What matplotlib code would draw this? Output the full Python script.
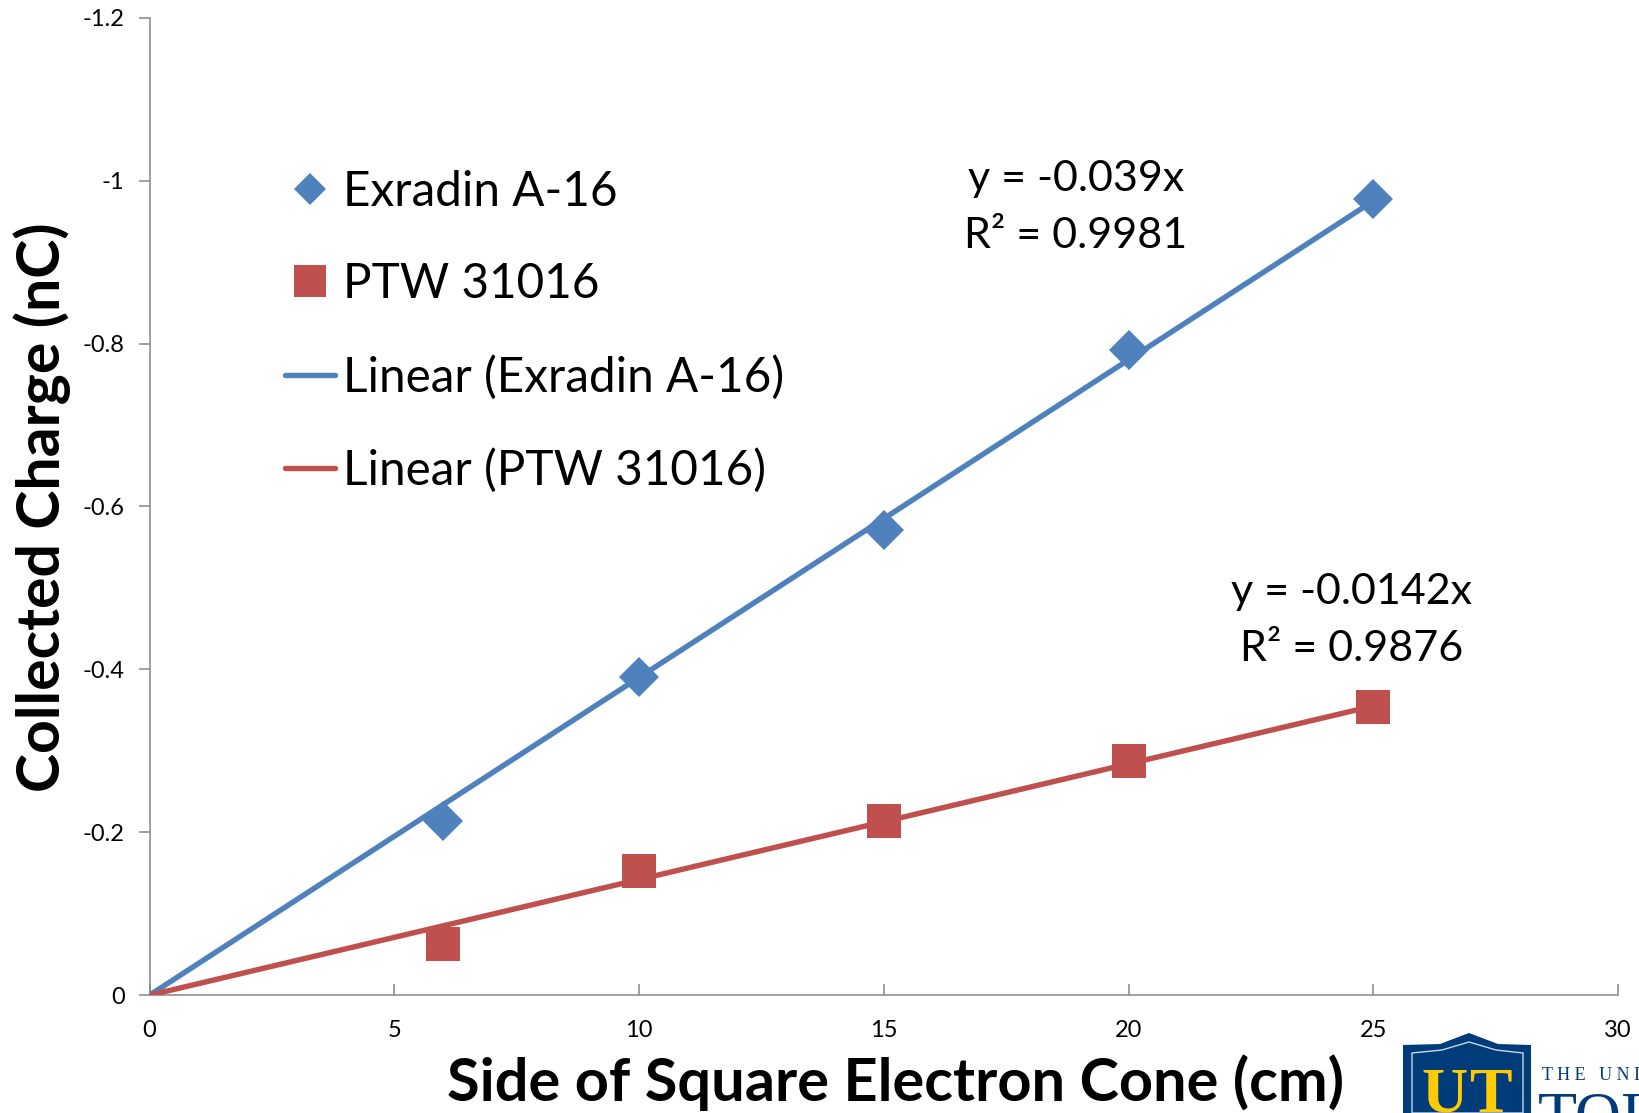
import numpy as np
import matplotlib
matplotlib.use("Agg")
import matplotlib.pyplot as plt
from matplotlib.patches import Polygon

# values
cone_side = [6, 10, 15, 20, 25]
exradin = [-0.214, -0.391, -0.571, -0.792, -0.978]
ptw = [-0.063, -0.153, -0.214, -0.2875, -0.354]
fit_x = [0, 25]
exradin_slope = -0.039
ptw_slope = -0.0142
x_ticks = [0, 5, 10, 15, 20, 25, 30]
y_ticks = [0, -0.2, -0.4, -0.6, -0.8, -1, -1.2]
y_tick_labels = ["0", "-0.2", "-0.4", "-0.6", "-0.8", "-1", "-1.2"]

BLUE = "#4F81BD"
RED = "#C0504D"
GREY = "#868686"
NAVY = "#003B7A"
GOLD = "#FFCB05"
W, H = 1639, 1113
AX_L, AX_R, AX_T, AX_B = 149.5, 1618, 17.7, 995.2

plt.rcParams["font.family"] = ["Lato", "DejaVu Sans"]

fig = plt.figure(figsize=(W / 100, H / 100), dpi=100)
ax = fig.add_axes([AX_L / W, 1 - AX_B / H, (AX_R - AX_L) / W, (AX_B - AX_T) / H])

fx = np.array(fit_x)
ax.plot(cone_side, exradin, "D", color=BLUE, ms=20.5, mew=0, label="Exradin A-16", clip_on=False, zorder=3)
ax.plot(cone_side, ptw, "s", color=RED, ms=24, mew=0, label="PTW 31016", clip_on=False, zorder=3)
ax.plot(fx, exradin_slope * fx, color=BLUE, lw=3.9, label="Linear (Exradin A-16)", zorder=4, solid_capstyle="round")
ax.plot(fx, ptw_slope * fx, color=RED, lw=3.9, label="Linear (PTW 31016)", zorder=4, solid_capstyle="round")

ax.set_xlim(0, 30)
ax.set_ylim(0, -1.2)
ax.set_xticks(x_ticks)
ax.set_yticks(y_ticks)
ax.set_yticklabels(y_tick_labels)
ax.spines["top"].set_visible(False)
ax.spines["right"].set_visible(False)
ax.spines["left"].set_color(GREY)
ax.spines["bottom"].set_color(GREY)
ax.spines["left"].set_linewidth(1.1)
ax.spines["bottom"].set_linewidth(1.1)
ax.tick_params(axis="x", direction="in", length=8, width=1.1, color=GREY, labelsize=17, pad=18)
ax.tick_params(axis="y", direction="out", length=8, width=1.1, color=GREY, labelsize=17, pad=10)

ax.set_xlabel("Side of Square Electron Cone (cm)", fontsize=42.8, fontweight="bold")
ax.xaxis.set_label_coords((896 - AX_L) / (AX_R - AX_L), -(1054 - AX_B) / (AX_B - AX_T), transform=ax.transAxes)
ax.xaxis.label.set_verticalalignment("top")
ax.set_ylabel("Collected Charge (nC)", fontsize=42.5, fontweight="bold")
ax.yaxis.set_label_coords(-(149.5 - 42) / (AX_R - AX_L), (AX_B - 507) / (AX_B - AX_T), transform=ax.transAxes)
ax.yaxis.label.set_verticalalignment("center")

leg = ax.legend(
    loc="upper left",
    bbox_to_anchor=(285 / W, 1 - 169.5 / H),
    bbox_transform=fig.transFigure,
    frameon=False,
    fontsize=34.3,
    handlelength=1.05,
    handletextpad=0.17,
    labelspacing=1.02,
    borderpad=0,
    borderaxespad=0,
)
leg.legend_handles[0].set_markersize(16)
leg.legend_handles[1].set_markersize(23.5)

ax.text(18.92, -0.967, "y = -0.039x\nR² = 0.9981", fontsize=31, ha="center", va="center", linespacing=1.62)
ax.text(24.56, -0.46, "y = -0.0142x\nR² = 0.9876", fontsize=31, ha="center", va="center", linespacing=1.62)

# logo in the corner, pixel coordinates
logo = fig.add_axes([0, 0, 1, 1], zorder=5)
logo.set_xlim(0, W)
logo.set_ylim(H, 0)
logo.axis("off")
shield = [(1403, 1045), (1440, 1044), (1469, 1033), (1498, 1044), (1531, 1045), (1531, 1113), (1403, 1113)]
inner = [(1412, 1053), (1442, 1050), (1469, 1042), (1496, 1050), (1523, 1053), (1523, 1113), (1412, 1113)]
logo.add_patch(Polygon(shield, closed=True, fc=NAVY, ec="none"))
logo.add_patch(Polygon(inner, closed=True, fc="none", ec="#C9D6E6", lw=1))
logo.text(1444.5, 1068, "U", family="Liberation Serif", fontsize=46, color=GOLD, ha="center", va="top", fontweight="bold", clip_on=True)
logo.text(1490, 1068, "T", family="Liberation Serif", fontsize=46, color=GOLD, ha="center", va="top", fontweight="bold", clip_on=True)
logo.text(1542, 1076, "T H E   U N I", family="Liberation Serif", fontsize=13, color=NAVY, ha="left", va="center")
logo.text(1538, 1091, "TOL", family="Liberation Serif", fontsize=46, color=NAVY, ha="left", va="top", clip_on=True)

fig.savefig("out.png", dpi=100)
